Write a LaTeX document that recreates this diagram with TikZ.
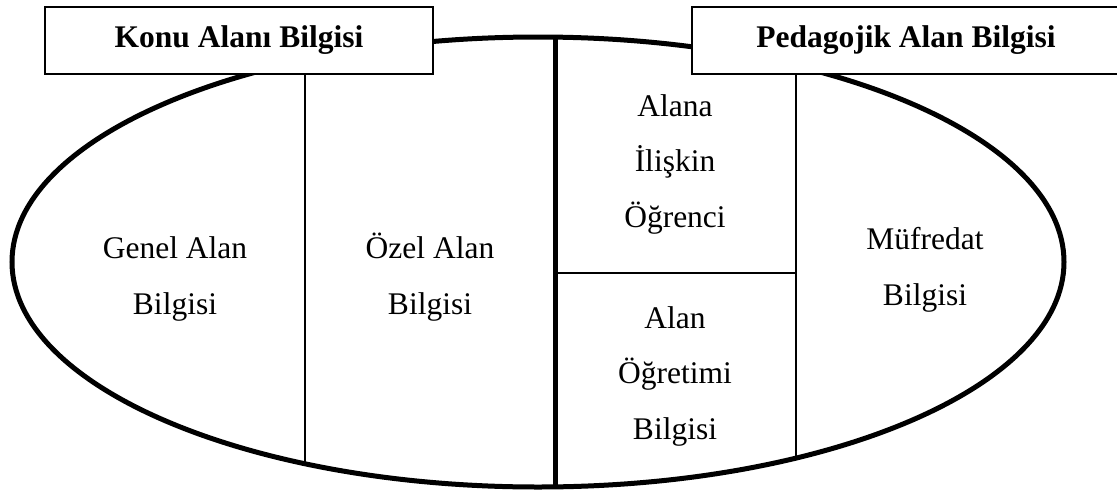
\documentclass[tikz,border=0pt]{standalone}
\usepackage{fontspec}
\setmainfont{Liberation Serif}
\begin{document}
\begin{tikzpicture}[x=1pt,y=-1pt,
  titlebox/.style={draw,fill=white,line width=1.3pt,inner sep=0pt,font=\fontsize{31.5}{55.5}\selectfont\bfseries},
  lbl/.style={align=center,anchor=base,inner sep=0pt,font=\fontsize{31.5}{55.5}\selectfont},
  thin/.style={line width=1.1pt},
  thick/.style={line width=5pt}]
\useasboundingbox (0,0) rectangle (1117,493);
% ellipse
\draw[thick] (538,262) ellipse [x radius=526pt, y radius=225pt];
% coordinates
\coordinate (ltop) at (305,74);
\coordinate (lbot) at (305,464);
\coordinate (rtop) at (796,74);
\coordinate (rbot) at (796,458);
\coordinate (ctop) at (555,37);
\coordinate (cbot) at (555,487);
\coordinate (hl) at (555,273);
\coordinate (hr) at (796,273);
\draw[thin] (ltop) -- (lbot);
\draw[thin] (rtop) -- (rbot);
\draw[thin] (hl) -- (hr);
\draw[thick] (ctop) -- (cbot);
% title boxes
\node[titlebox,minimum width=388pt,minimum height=67pt] (konu) at (239,40.5) {Konu Alanı Bilgisi};
\node[titlebox,minimum width=428pt,minimum height=67pt] (ped) at (906,40.5) {Pedagojik Alan Bilgisi};
% labels (anchor = baseline of last line)
\node[lbl] (genel) at (175,314) {Genel Alan\\Bilgisi};
\node[lbl] (ozel) at (430,314) {Özel Alan\\Bilgisi};
\node[lbl] (ogrenci) at (675,227) {Alana\\İlişkin\\Öğrenci};
\node[lbl] (ogretim) at (675,439) {Alan\\Öğretimi\\Bilgisi};
\node[lbl] (mufredat) at (925,305) {Müfredat\\Bilgisi};
\end{tikzpicture}
\end{document}
